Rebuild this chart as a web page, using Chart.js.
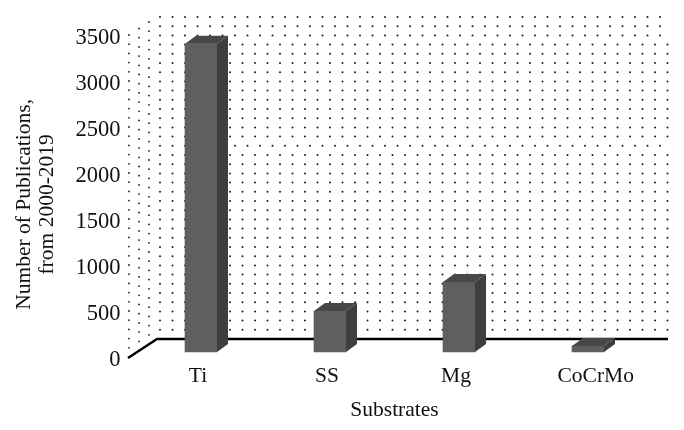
<!DOCTYPE html>
<html>
<head>
<meta charset="utf-8">
<script src="https://cdn.jsdelivr.net/npm/chart.js@4"></script>
<style>
html, body { margin: 0; padding: 0; background: #fff; }
#wrap { width: 684px; height: 430px; }
</style>
</head>
<body>
<div id="wrap"><canvas id="chart"></canvas></div>
<script>
const categories = ['Ti', 'SS', 'Mg', 'CoCrMo'];
const publications = [3350, 445, 760, 65];
const yTicks = [0, 500, 1000, 1500, 2000, 2500, 3000, 3500];
const offsetRows = [2100, 3300, 3400, 3500]; // dotted rows that sit out of step with the rest

const font = '"Liberation Serif", serif';
const wallDx = 29, wallDy = 19;   // depth of the box
const barDx = 11, barDy = 8;      // depth of each bar
const labelDrop = 2;              // tick labels sit a bit under their plane
const dotStepX = 12.5;

function dot(ctx, x, y, r) {
    ctx.beginPath();
    ctx.arc(x, y, r, 0, Math.PI * 2);
    ctx.fill();
}

const box3d = {
    id: 'box3d',
    beforeDatasetsDraw(chart) {
        const ctx = chart.ctx;
        const y = chart.scales.y;
        const left = chart.scales.x.left - 8.5;
        const bottom = y.getPixelForValue(0) - labelDrop;
        const backX = left + wallDx;
        const backY = bottom - wallDy;
        const right = chart.width - 16;

        ctx.save();
        ctx.fillStyle = '#1a1a1a';
        // dotted grid, every 100 units
        for (let v = 100; v <= 3500; v += 100) {
            const py = y.getPixelForValue(v) - labelDrop - wallDy;
            const startX = backX + 3;
            const stepped = offsetRows.includes(v);
            for (let i = 0; i <= 41; i++) {
                let px = startX + i * dotStepX;
                if (!stepped && i > 3) px -= 5;
                if (stepped && i > 40) continue;
                dot(ctx, px, py, 1);
            }
        }
        for (let v = 0; v <= 3500; v += 100) {
            const py = y.getPixelForValue(v) - labelDrop;
            for (let c = 0; c < 3; c++) {
                dot(ctx, left + 1 + c * 10, py - 1 - c * 6.5, 0.9);
            }
        }
        // floor edges
        ctx.strokeStyle = '#000';
        ctx.lineWidth = 2.4;
        ctx.beginPath();
        ctx.moveTo(left, bottom);
        ctx.lineTo(backX, backY);
        ctx.lineTo(right, backY);
        ctx.stroke();
        ctx.restore();
    },
    afterDatasetsDraw(chart) {
        const ctx = chart.ctx;
        chart.getDatasetMeta(0).data.forEach(bar => {
            const l = bar.x - bar.width / 2;
            const r = bar.x + bar.width / 2;
            ctx.fillStyle = '#3e3e3e';
            ctx.beginPath();
            ctx.moveTo(r, bar.y);
            ctx.lineTo(r + barDx, bar.y - barDy);
            ctx.lineTo(r + barDx, bar.base - barDy);
            ctx.lineTo(r, bar.base);
            ctx.closePath();
            ctx.fill();
            ctx.fillStyle = '#474747';
            ctx.beginPath();
            ctx.moveTo(l, bar.y);
            ctx.lineTo(l + barDx, bar.y - barDy);
            ctx.lineTo(r + barDx, bar.y - barDy);
            ctx.lineTo(r, bar.y);
            ctx.closePath();
            ctx.fill();
        });
    }
};

new Chart(document.getElementById('chart'), {
    type: 'bar',
    data: {
        labels: categories,
        datasets: [{
            data: publications,
            yAxisID: 'yBar',
            backgroundColor: '#5f5f5f',
            barThickness: 32,
        }],
    },
    plugins: [box3d],
    options: {
        responsive: true,
        maintainAspectRatio: false,
        animation: false,
        layout: { padding: { top: 38, right: 31.5, bottom: 7, left: 0 } },
        plugins: { legend: { display: false }, tooltip: { enabled: false } },
        scales: {
            x: {
                grid: { display: false, drawTicks: false },
                border: { display: false },
                ticks: {
                    color: '#111',
                    font: { family: font, size: 21.5 },
                    padding: 3,
                    labelOffset: -3,
                    maxRotation: 0,
                    // CoCrMo sits right of its bar in the original
                    callback(v, i) { return i === 3 ? '    ' + categories[i] : categories[i]; },
                },
                title: {
                    display: true,
                    text: 'Substrates',
                    color: '#111',
                    font: { family: font, size: 21.5 },
                    padding: { top: 7, bottom: 0 },
                },
                afterFit(scale) { scale.height = 63; },
            },
            y: {
                min: 0,
                max: 3500,
                afterBuildTicks(scale) { scale.ticks = yTicks.map(v => ({ value: v })); },
                grid: { display: false, drawTicks: false },
                border: { display: false },
                ticks: {
                    color: '#111',
                    font: { family: font, size: 22.5 },
                    padding: 16,
                    callback(v) { return String(v); },
                },
                title: {
                    display: true,
                    // trailing spaces push the rotated title down to where the original has it
                    text: ['Number of Publications,  ', 'from 2000-2019  '],
                    color: '#111',
                    font: { family: font, size: 21.5, lineHeight: 1.05 },
                    padding: { top: 13, bottom: 4 },
                },
                afterFit(scale) { scale.width = 136.5; },
            },
            // bars stand a little forward of the tick plane
            yBar: { display: false, min: -87, max: 3413 },
        },
    },
});
</script>
</body>
</html>
